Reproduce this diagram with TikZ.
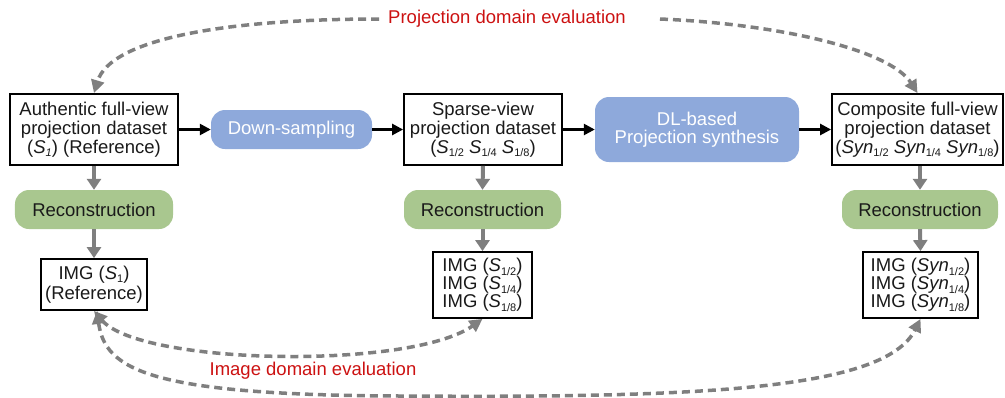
\documentclass[tikz,border=0pt]{standalone}
\usepackage{fontspec}
\setmainfont{Liberation Sans}
\usetikzlibrary{arrows.meta}
\definecolor{pillblue}{HTML}{8EA9DB}
\definecolor{pillgreen}{HTML}{A9C78F}
\definecolor{evalred}{HTML}{CC1111}
\definecolor{txt}{HTML}{1A1A1A}
\definecolor{arrgrey}{HTML}{7F7F7F}
\newcommand\lsub[1]{\raisebox{-0.35ex}[0pt][0pt]{\fontsize{11bp}{11bp}\selectfont\upshape #1}}
\tikzset{gtip/.tip={Triangle[length=13bp,width=13bp]}}
\begin{document}
\begin{tikzpicture}[x=1bp,y=-1bp,
  every node/.style={font=\fontsize{18.5bp}{19bp}\selectfont, text=txt, inner sep=0pt, align=center},
  databox/.style={draw=black, line width=1.8bp, fill=white},
  bluepill/.style={rounded corners=14bp, fill=pillblue, text=white},
  greenpill/.style={rounded corners=14bp, fill=pillgreen},
  flow/.style={-{Triangle[length=11bp,width=11bp]}, line width=2.5bp, draw=black},
  gdown/.style={-{Triangle[length=11bp,width=14bp]}, line width=4bp, draw=arrgrey},
  evaldash/.style={draw=arrgrey, line width=3.5bp, dash pattern=on 8bp off 5bp},
  evallabel/.style={text=evalred}
]
\useasboundingbox (0,0) rectangle (1005,397);

% top row
\node[databox, minimum width=168bp, minimum height=71bp] (A) at (94,129.5)
  {Authentic full-view\\projection dataset\\(\textit{S\lsub{\itshape 1}}) (Reference)};
\node[bluepill, minimum width=161bp, minimum height=39bp] (DS) at (291.5,129.5) {Down-sampling};
\node[databox, minimum width=158bp, minimum height=71bp] (B) at (483,129.5)
  {Sparse-view\\projection dataset\\(\textit{S}\lsub{1/2} \textit{S}\lsub{1/4} \textit{S}\lsub{1/8})};
\node[bluepill, minimum width=204bp, minimum height=65bp, font=\fontsize{18.5bp}{17.5bp}\selectfont] (DL) at (697,129.5)
  {DL-based\\Projection synthesis};
\node[databox, minimum width=171bp, minimum height=71bp] (C) at (917.5,129.5)
  {Composite full-view\\projection dataset\\(\textit{Syn}\lsub{1/2} \textit{Syn}\lsub{1/4} \textit{Syn}\lsub{1/8})};

% reconstruction row
\node[greenpill, minimum width=158bp, minimum height=39bp] (R1) at (94,209.5) {Reconstruction};
\node[greenpill, minimum width=157bp, minimum height=39bp] (R2) at (482.5,209.5) {Reconstruction};
\node[greenpill, minimum width=156bp, minimum height=39bp] (R3) at (920,209.5) {Reconstruction};

% image row
\node[databox, minimum width=106bp, minimum height=51bp, font=\fontsize{18.5bp}{19.5bp}\selectfont] (I1) at (94,284.5)
  {IMG (\textit{S}\lsub{1})\\(Reference)};
\node[databox, minimum width=99bp, minimum height=66bp, font=\fontsize{18.5bp}{18bp}\selectfont] (I2) at (482.5,285)
  {IMG (\textit{S}\lsub{1/2})\\IMG (\textit{S}\lsub{1/4})\\IMG (\textit{S}\lsub{1/8})};
\node[databox, minimum width=115bp, minimum height=66bp, font=\fontsize{18.5bp}{18bp}\selectfont] (I3) at (920.5,285)
  {IMG (\textit{Syn}\lsub{1/2})\\IMG (\textit{Syn}\lsub{1/4})\\IMG (\textit{Syn}\lsub{1/8})};

% labels
\node[evallabel] (P) at (507,19) {Projection domain evaluation};
\node[evallabel] (Q) at (313,371) {Image domain evaluation};

% main flow
\draw[flow] (A.east) -- (DS.west);
\draw[flow] (DS.east) -- (B.west);
\draw[flow] (B.east) -- (DL.west);
\draw[flow] (DL.east) -- (C.west);

% down arrows
\draw[gdown] (A.south) -- (R1.north);
\draw[gdown] (R1.south) -- (I1.north);
\draw[gdown] (B.south) -- (R2.north);
\draw[gdown] (R2.south) -- (I2.north);
\draw[gdown] (R3.north |- C.south) -- (R3.north);
\draw[gdown] (R3.south) -- (I3.north);

% evaluation arcs
\coordinate (low) at (400,396);
\draw[evaldash, -gtip] ([xshift=-9bp]P.west) .. controls (220,19) and (110,40) .. (A.north);
\draw[evaldash, -gtip] ([xshift=34bp]P.east) .. controls (780,24) and (890,50) .. (C.north);
\draw[evaldash, gtip-gtip] (I1.south) .. controls (140,365) and (410,370) .. (I2.south);
\draw[evaldash, gtip-gtip] ([xshift=3bp]I1.south) .. controls (105,370) and (150,395) .. (low)
  .. controls (700,398) and (885,390) .. (I3.south);
\end{tikzpicture}
\end{document}
